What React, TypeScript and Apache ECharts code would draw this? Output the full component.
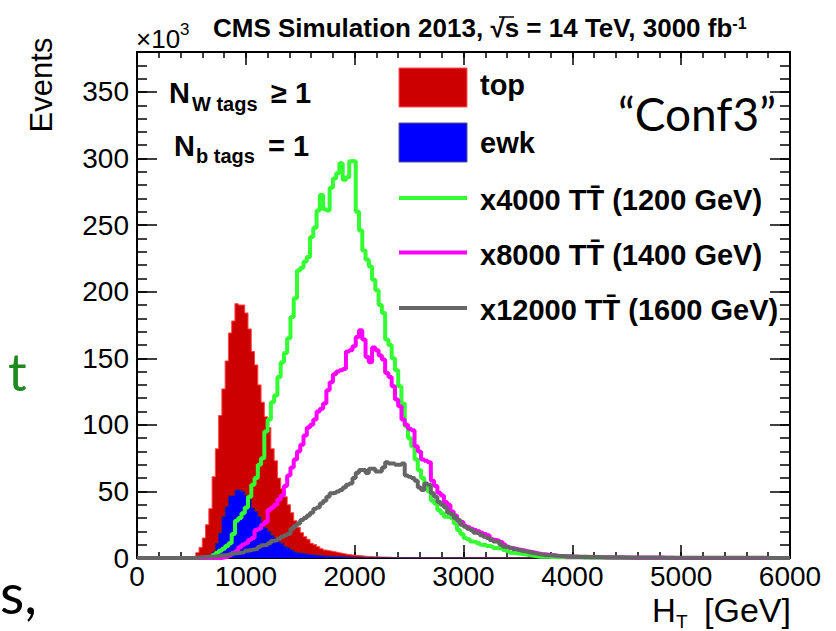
import React, { useEffect, useRef } from "react";
import * as echarts from "echarts";

// ---------- data (events in units of 10^3, 30 GeV bins; each array starts at its *_START bin low edge) ----------
const BIN_WIDTH = 30;
const X_RANGE = [0, 6000];
const Y_RANGE = [0, 380];
const X_MAJOR = 1000;
const X_MINOR = 200;
const Y_MAJOR = 50;
const Y_MINOR = 10;

// ewk and top share the same bins (stacked background)
const BKG_START = 480;
const ewkEvents = [
  0, 0, 0.2, 0.3, 0.5, 1, 2.3, 4.7, 11, 18.8,
  31, 38.5, 46.6, 47, 51, 51, 50, 47, 44, 37.5,
  35, 31, 27, 22.5, 20, 17, 15, 12, 11, 8.5,
  7.5, 6, 4.5, 3.8, 3.5, 3, 2.7, 2.4, 2.1, 1.8,
  1.6, 1.4, 1.3, 1.2, 1.1, 1, 0.9, 0.8, 0.7, 0.6,
  0.5, 0.4, 0.4, 0.35, 0.3, 0.3, 0.25, 0.25, 0.2, 0.2,
  0.2, 0.15, 0.15, 0.1, 0.1, 0.1, 0.1, 0.1,
];

// top contribution, stacked on ewk
const topEvents = [
  0.2, 0.5, 3.8, 7.7, 14.5, 24, 34.7, 56.3, 71, 88.2,
  96, 109.5, 122.4, 131, 140, 139, 140, 137, 128, 117.5,
  110, 99, 90, 83.5, 78, 65, 58, 48, 41, 37.5,
  32.5, 28, 23.5, 19.2, 15.5, 13, 11.3, 8.6, 7.9, 6.7,
  5.4, 4.6, 4.2, 3.8, 3.4, 3, 2.6, 2.2, 1.9, 1.7,
  1.5, 1.4, 1.2, 1.05, 0.9, 0.8, 0.7, 0.6, 0.55, 0.5,
  0.4, 0.35, 0.3, 0.25, 0.2, 0.15, 0.1, 0.1,
];

// x4000 TT (1200 GeV)
const TT1200_START = 600;
const tt1200Events = [
  0.3, 0.6, 1, 2, 3.7, 5.5, 7, 9, 11, 18,
  28, 30, 33.6, 38, 46, 55, 60, 70, 75, 95,
  104, 117, 122, 136, 147, 154, 165, 181, 195, 216,
  218, 222.6, 226, 241, 248, 261, 272.6, 262, 261, 278,
  285, 289, 296.5, 284, 286, 298, 298, 260, 246, 231,
  224, 219, 209, 201, 190, 184, 164, 160, 150, 141,
  129, 116, 99, 90, 84, 74, 66, 60, 54, 50,
  43, 41, 36, 33.6, 31, 31, 30, 26, 21, 18,
  15, 14, 12.3, 12, 11, 10, 9.8, 9, 8.5, 7.5,
  7.3, 7, 6, 5, 4, 3.5, 3.3, 3, 2.8, 2.5,
  2, 1.5, 1.2, 1, 1, 0.9, 0.8, 0.7, 0.6, 0.5,
  0.5, 0.4, 0.4, 0.35, 0.3, 0.3, 0.25, 0.2, 0.2, 0.15,
  0.15, 0.1, 0.1, 0.1, 0.1, 0.05, 0.05, 0.05, 0.05, 0.05,
];

// x8000 TT (1400 GeV)
const TT1400_START = 780;
const tt1400Events = [
  0.5, 1, 2, 4, 5, 8, 10, 11, 13.5, 15,
  21, 22, 25, 27, 36, 38, 40, 44, 47, 54,
  62, 68, 74, 80, 85, 92, 98, 100, 104, 110,
  112, 116, 126, 132, 138, 140, 141, 142, 155, 156,
  159, 166, 171, 164, 151, 147, 158, 156, 152, 149,
  139, 136, 129, 119, 114, 104, 100, 97, 96, 84,
  80, 74, 73, 72, 58, 54, 49, 47, 42, 40,
  35, 32, 28, 27, 24, 23, 22, 21, 20, 19,
  18, 17, 14, 13.5, 13, 12, 10, 8.5, 7.5, 7,
  6.5, 6, 5.5, 5, 4.5, 4, 3.5, 3, 2.8, 2.5,
  2.2, 2, 1.6, 1.3, 1.1, 1, 1, 0.9, 0.8, 0.8,
  0.7, 0.7, 0.6, 0.6, 0.5, 0.5, 0.5, 0.45, 0.4, 0.4,
  0.35, 0.35, 0.3, 0.3, 0.3, 0.25, 0.25, 0.2, 0.2, 0.2,
  0.15, 0.15, 0.15, 0.1, 0.1, 0.1, 0.1, 0.1, 0.05, 0.05,
];

// x12000 TT (1600 GeV)
const TT1600_START = 540;
const tt1600Events = [
  0.3, 0.5, 0.7, 0.9, 1, 1.2, 1.5, 1.8, 2, 2.5,
  3, 3.5, 3.8, 4, 4.5, 5.5, 6, 6.5, 7, 8.5,
  9.5, 10, 11, 13, 13.5, 14.5, 16, 17, 18, 22,
  24, 26, 28.5, 30, 32, 34, 37, 38, 41, 43,
  46, 48.6, 49, 50, 51, 53, 55, 56, 60, 64,
  66, 66, 63.8, 67, 67, 65, 65, 68, 72, 71,
  71, 70, 70, 71, 62, 61, 60, 58, 53, 51,
  56, 55, 48.6, 46, 42, 40, 38, 34, 33, 30,
  28.5, 25, 23.5, 22, 21, 19, 18.5, 17, 16, 15,
  13.5, 12.3, 12, 10, 8.5, 8, 7.5, 6.5, 6, 5.5,
  5, 4.5, 4, 3.5, 3, 2.6, 2.3, 2.1, 2, 1.8,
  1.6, 1.5, 1.5, 1.4, 1.3, 1.2, 1.1, 1, 1, 0.9,
  0.8, 0.8, 0.7, 0.7, 0.65, 0.6, 0.6, 0.55, 0.5, 0.5,
  0.5, 0.45, 0.45, 0.4, 0.4, 0.4, 0.35, 0.35, 0.35, 0.3,
  0.3, 0.3, 0.3, 0.25, 0.25, 0.25, 0.25, 0.2, 0.2, 0.2,
  0.2, 0.2, 0.2, 0.2, 0.15, 0.15, 0.15, 0.15, 0.15, 0.15,
  0.1, 0.1, 0.1, 0.1, 0.1, 0.1, 0.1, 0.1, 0.1, 0.1,
  0.1, 0.1, 0.1, 0.1, 0.1, 0.05, 0.05, 0.05, 0.05, 0.05, 0.05, 0.05,
];

const legendLabels = [
  "top",
  "ewk",
  "x4000 TT\u0304 (1200 GeV)",
  "x8000 TT\u0304 (1400 GeV)",
  "x12000 TT\u0304 (1600 GeV)",
];

// ---------- styling ----------
const FONT = "'Liberation Sans', Arial, Helvetica, sans-serif";
const SLIDE_FONT = "Lato, 'Open Sans', sans-serif";
const C_TOP = "#cc0000";
const C_EWK = "#0000ff";
const C_1200 = "#33ff33";
const C_1400 = "#ff00ff";
const C_1600 = "#666666";

function histogram(start: number, values: number[]): number[][] {
  const pts: number[][] = [[X_RANGE[0], 0]];
  values.forEach((v, i) => pts.push([start + i * BIN_WIDTH, v]));
  pts.push([start + values.length * BIN_WIDTH, 0]);
  pts.push([X_RANGE[1], 0]);
  return pts;
}

function makeAxis(dim: "x" | "y", position: string, interval: number, len: number, major: boolean, labels: boolean) {
  const range = dim === "x" ? X_RANGE : Y_RANGE;
  return {
    type: "value",
    position,
    min: range[0],
    max: range[1],
    interval,
    axisLine: { show: major, onZero: false, lineStyle: { color: "#000", width: 2 } },
    axisTick: { show: true, inside: true, length: len, lineStyle: { color: "#000", width: 1.5 } },
    minorTick: { show: false },
    splitLine: { show: false },
    axisLabel: {
      show: labels,
      color: "#000",
      fontSize: 28,
      fontFamily: FONT,
      margin: dim === "x" ? 4 : 8,
      showMaxLabel: dim === "x",
      formatter: (v: number) => (v % interval === 0 ? String(v) : ""),
    },
  };
}

export default function App() {
  const ref = useRef<HTMLDivElement>(null);

  useEffect(() => {
    if (!ref.current) return;
    const chart = echarts.init(ref.current, undefined, { renderer: "svg" });

    // stacked background: top drawn as the envelope (ewk + top), ewk drawn over it
    const stackTotal = topEvents.map((v, i) => v + ewkEvents[i]);

    const lineSeries = (name: string, start: number, values: number[], color: string) => ({
      type: "line",
      name,
      data: histogram(start, values),
      step: "end",
      symbol: "none",
      lineStyle: { color, width: 4 },
      z: 5,
      silent: true,
    });

    const legendY = [87, 142.5, 198, 252.5, 308];
    const textY = [85, 143, 200, 254.5, 309.5];

    const txt = (x: number, y: number, text: string, extra: any = {}) => ({
      type: "text", x, y, silent: true, z: 20,
      style: { text, fontSize: 28, fontFamily: FONT, fill: "#000", align: "left", verticalAlign: "middle", ...extra },
    });

    const graphic: any[] = [
      { ...txt(41, 85, "Events", { fontSize: 31, align: "center" }), rotation: Math.PI / 2 },
      txt(652, 610, "H", { fontSize: 33 }),
      txt(676, 621, "T", { fontSize: 19 }),
      txt(791, 610, "[GeV]", { fontSize: 34, align: "right" }),
      txt(136, 39, "\u00d710", { fontSize: 26 }),
      txt(180, 29, "3", { fontSize: 17 }),
      {
        type: "text", x: 213, y: 28, silent: true, z: 20,
        style: {
          text: "{t|CMS Simulation 2013, \u221as = 14 TeV, 3000 fb}{s|-1}",
          fill: "#000", align: "left", verticalAlign: "middle",
          rich: {
            t: { fontSize: 26, fontWeight: "bold", fontFamily: FONT, fill: "#000" },
            s: { fontSize: 16, fontWeight: "bold", fontFamily: FONT, fill: "#000", verticalAlign: "top" },
          },
        },
      },
      // overline of the square-root sign over "s"
      { type: "line", silent: true, z: 20, shape: { x1: 499, y1: 17, x2: 514, y2: 17 }, style: { stroke: "#000", lineWidth: 1.5 } },
      txt(169, 93, "N", { fontSize: 29, fontWeight: "bold" }),
      txt(192, 104, "W tags", { fontSize: 20, fontWeight: "bold" }),
      txt(271, 93, "\u2265 1", { fontSize: 29, fontWeight: "bold" }),
      txt(174, 146, "N", { fontSize: 29, fontWeight: "bold" }),
      txt(196, 156, "b tags", { fontSize: 20, fontWeight: "bold" }),
      txt(268, 146, "= 1", { fontSize: 29, fontWeight: "bold" }),
      txt(776, 113, "\u201cConf3\u201d", { fontSize: 46, fontFamily: SLIDE_FONT, align: "right" }),
      // slide fragments at the left edge
      txt(8, 371, "t", { fontSize: 52, fontFamily: SLIDE_FONT, fill: "#1f8a1f" }),
      txt(0, 592, "s,", { fontSize: 56, fontFamily: SLIDE_FONT }),
      // legend symbols
      { type: "rect", silent: true, z: 20, shape: { x: 399, y: 68, width: 68, height: 39 }, style: { fill: C_TOP, stroke: "#ff5555", lineWidth: 1 } },
      { type: "rect", silent: true, z: 20, shape: { x: 399, y: 123, width: 68, height: 39 }, style: { fill: C_EWK, stroke: "#55558a", lineWidth: 1 } },
      { type: "line", silent: true, z: 20, shape: { x1: 399, y1: legendY[2], x2: 467, y2: legendY[2] }, style: { stroke: C_1200, lineWidth: 4 } },
      { type: "line", silent: true, z: 20, shape: { x1: 399, y1: legendY[3], x2: 467, y2: legendY[3] }, style: { stroke: C_1400, lineWidth: 4 } },
      { type: "line", silent: true, z: 20, shape: { x1: 399, y1: legendY[4], x2: 467, y2: legendY[4] }, style: { stroke: C_1600, lineWidth: 4 } },
      ...legendLabels.map((t, i) => txt(480, textY[i], t, { fontSize: 29, fontWeight: "bold" })),
    ];

    chart.setOption({
      animation: false,
      backgroundColor: "#fff",
      grid: { left: 137, right: 46, top: 52, bottom: 73, containLabel: false },
      xAxis: [
        makeAxis("x", "bottom", X_MAJOR, 13, true, true),
        makeAxis("x", "bottom", X_MINOR, 6, false, false),
        makeAxis("x", "top", X_MAJOR, 13, true, false),
        makeAxis("x", "top", X_MINOR, 6, false, false),
      ],
      yAxis: [
        makeAxis("y", "left", Y_MAJOR, 20, true, true),
        makeAxis("y", "left", Y_MINOR, 10, false, false),
        makeAxis("y", "right", Y_MAJOR, 20, true, false),
        makeAxis("y", "right", Y_MINOR, 10, false, false),
      ],
      series: [
        {
          type: "line", name: "top", data: histogram(BKG_START, stackTotal), step: "end",
          symbol: "none", silent: true, z: 2,
          lineStyle: { color: "#ff4444", width: 1 },
          areaStyle: { color: C_TOP, opacity: 1, origin: "start" },
        },
        {
          type: "line", name: "ewk", data: histogram(BKG_START, ewkEvents), step: "end",
          symbol: "none", silent: true, z: 3,
          lineStyle: { color: "#2a2a70", width: 1 },
          areaStyle: { color: C_EWK, opacity: 1, origin: "start" },
        },
        lineSeries("x4000 TT (1200 GeV)", TT1200_START, tt1200Events, C_1200),
        lineSeries("x8000 TT (1400 GeV)", TT1400_START, tt1400Events, C_1400),
        lineSeries("x12000 TT (1600 GeV)", TT1600_START, tt1600Events, C_1600),
      ],
      graphic,
    });

    return () => chart.dispose();
  }, []);

  return <div ref={ref} style={{ position: "fixed", left: 0, top: 0, width: 836, height: 631, background: "#fff" }} />;
}
